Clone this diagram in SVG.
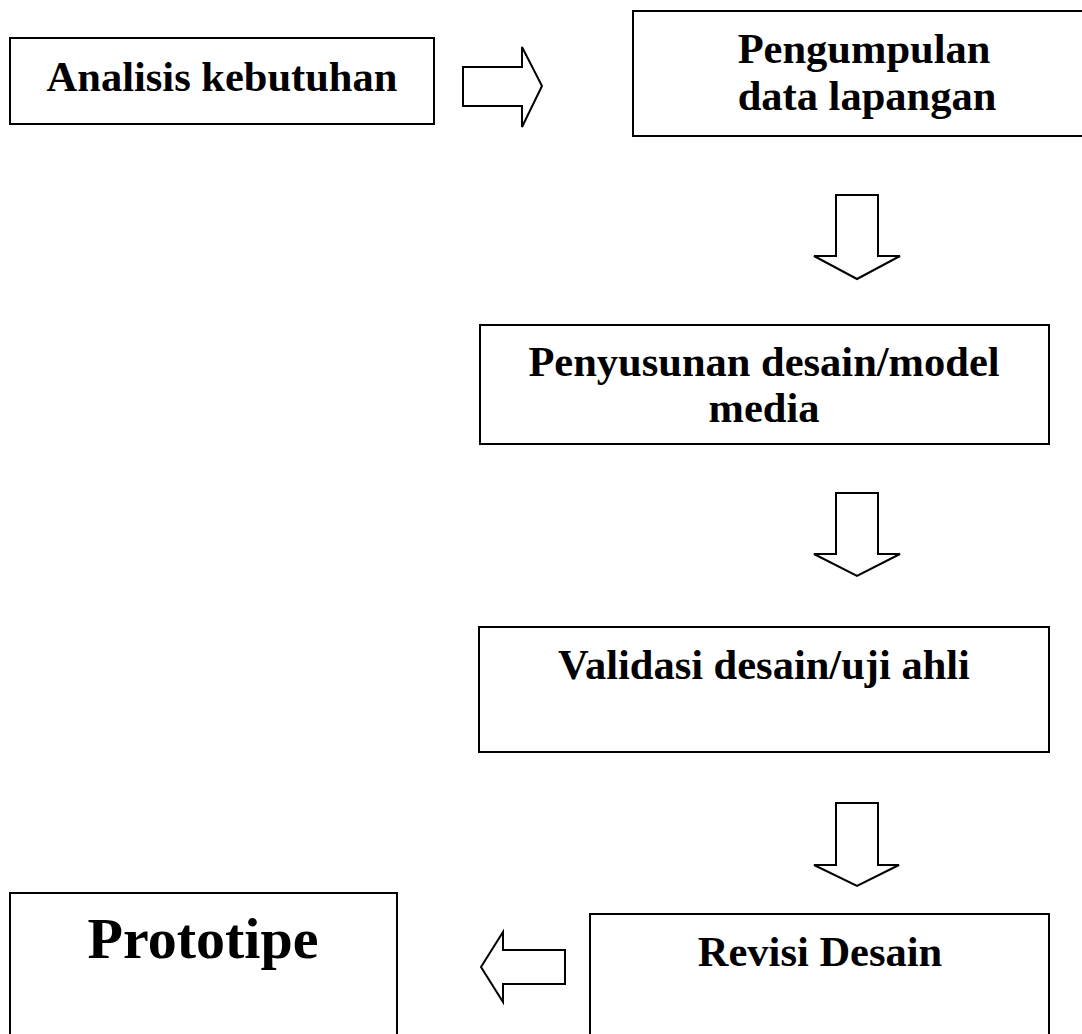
<svg xmlns="http://www.w3.org/2000/svg" width="1082" height="1034" viewBox="0 0 1082 1034">
<style>
.box{fill:#fff;stroke:#000;stroke-width:2}
.arr{fill:#fff;stroke:#000;stroke-width:2;stroke-linejoin:miter}
.t{font-family:"Liberation Serif","Times New Roman",serif;font-weight:bold;font-size:42.5px;fill:#000;text-anchor:middle}
.big{font-size:58px}
</style>
<rect width="1082" height="1034" fill="#fff"/>
<g id="connectors">
<polygon class="arr" points="463,67 522,67 522,47 542,86 522,127 522,106 463,106"/>
<polygon class="arr" points="836,195 878,195 878,256 900,256 857,279 814,256 836,256"/>
<polygon class="arr" points="836,493 878,493 878,554 900,554 857,576 814,554 836,554"/>
<polygon class="arr" points="836,803 878,803 878,865 899,865 857,886 814,865 836,865"/>
<polygon class="arr" points="565,950 503,950 503,932 481,967 503,1002 503,984 565,984"/>
</g>
<g id="n1">
<rect class="box" x="10" y="38" width="424" height="86"/>
<text class="t" x="222" y="91">Analisis kebutuhan</text>
</g>
<g id="n2">
<rect class="box" x="633" y="11" width="470" height="125"/>
<text class="t" x="864" y="63">Pengumpulan</text>
<text class="t" x="867" y="110">data lapangan</text>
</g>
<g id="n3">
<rect class="box" x="480" y="325" width="569" height="119"/>
<text class="t" x="764" y="376">Penyusunan desain/model</text>
<text class="t" x="764" y="422">media</text>
</g>
<g id="n4">
<rect class="box" x="479" y="627" width="570" height="125"/>
<text class="t" x="764" y="679">Validasi desain/uji ahli</text>
</g>
<g id="n5">
<rect class="box" x="590" y="914" width="459" height="140"/>
<text class="t" x="820" y="966">Revisi Desain</text>
</g>
<g id="n6">
<rect class="box" x="10" y="893" width="387" height="160"/>
<text class="t big" x="203" y="958">Prototipe</text>
</g>
</svg>
